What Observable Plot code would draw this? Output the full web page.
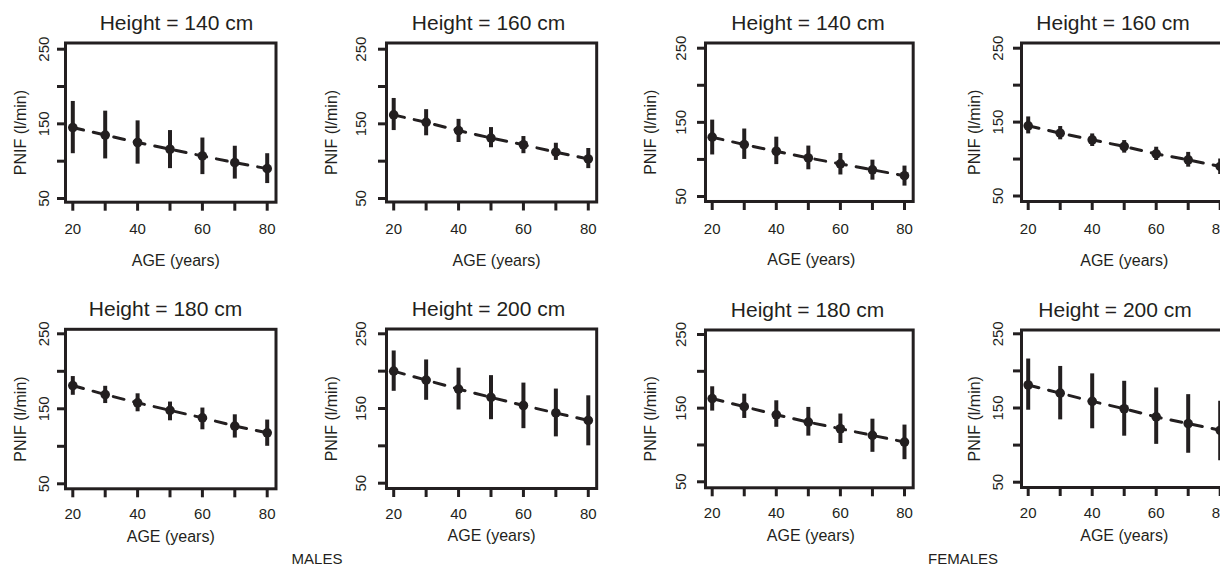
<!DOCTYPE html>
<html>
<head>
<meta charset="utf-8">
<script src="https://cdn.jsdelivr.net/npm/d3@7"></script>
<script src="https://cdn.jsdelivr.net/npm/@observablehq/plot@0.6"></script>
<style>
  html, body { margin: 0; padding: 0; background: #ffffff; overflow: hidden; }
  #chart { position: relative; width: 1220px; height: 567px; overflow: hidden; background: #ffffff;
           font-family: "Liberation Sans", Arial, Helvetica, sans-serif; color: #231f20; }
  .panel { position: absolute; }
  .group-label { position: absolute; font-size: 15px; line-height: 11px; height: 11px; transform: translateX(-50%); white-space: nowrap; }
</style>
</head>
<body>
<div id="chart"></div>
<script>
// ---------------- DATA ----------------
const ages = [20, 30, 40, 50, 60, 70, 80];
const yTicks = [50, 100, 150, 200, 250];
const yTickLabels = [50, 150, 250];
const xTickLabels = [20, 40, 60, 80];
const groupNames = ["MALES", "FEMALES"];
const xLabel = "AGE (years)";
const yLabel = "PNIF (l/min)";

// Males – predicted PNIF (mean) with interval (lo, hi)
const male140Mean = [145, 135, 125, 116, 107, 98, 90];
const male140Lo   = [110, 103, 96, 90, 82, 76, 70];
const male140Hi   = [180, 167, 154, 141, 131, 120, 110];

const male160Mean = [162, 152, 141, 131, 122, 112, 103];
const male160Lo   = [141, 134, 125, 118, 110, 101, 90];
const male160Hi   = [184, 169, 156, 145, 133, 124, 117];

const male180Mean = [181, 169, 158, 148, 138, 127, 118];
const male180Lo   = [168, 157, 146, 134, 122, 111, 100];
const male180Hi   = [193, 180, 170, 159, 151, 142, 135];

const male200Mean = [200, 188, 176, 165, 154, 144, 134];
const male200Lo   = [173, 161, 148, 135, 123, 112, 100];
const male200Hi   = [227, 215, 204, 194, 184, 176, 167];

// Females
const female140Mean = [130, 120, 111, 102, 94, 86, 78];
const female140Lo   = [106, 100, 93, 86, 79, 72, 64];
const female140Hi   = [153, 141, 130, 118, 108, 99, 91];

const female160Mean = [145, 135, 126, 117, 107, 99, 90];
const female160Lo   = [134, 126, 117, 108, 98, 89, 79];
const female160Hi   = [157, 144, 134, 125, 116, 109, 100];

const female180Mean = [163, 152, 141, 131, 122, 113, 104];
const female180Lo   = [146, 136, 124, 112, 102, 90, 80];
const female180Hi   = [179, 169, 160, 151, 142, 135, 127];

const female200Mean = [181, 170, 159, 149, 138, 129, 120];
const female200Lo   = [147, 134, 122, 112, 101, 89, 79];
const female200Hi   = [216, 206, 196, 186, 177, 168, 159];

// Panel content (row, col in the page grid)
const panels = [
  {h: 140, mean: male140Mean, lo: male140Lo, hi: male140Hi, row: 0, col: 0},
  {h: 160, mean: male160Mean, lo: male160Lo, hi: male160Hi, row: 0, col: 1},
  {h: 140, mean: female140Mean, lo: female140Lo, hi: female140Hi, row: 0, col: 2},
  {h: 160, mean: female160Mean, lo: female160Lo, hi: female160Hi, row: 0, col: 3},
  {h: 180, mean: male180Mean, lo: male180Lo, hi: male180Hi, row: 1, col: 0},
  {h: 200, mean: male200Mean, lo: male200Lo, hi: male200Hi, row: 1, col: 1},
  {h: 180, mean: female180Mean, lo: female180Lo, hi: female180Hi, row: 1, col: 2},
  {h: 200, mean: female200Mean, lo: female200Lo, hi: female200Hi, row: 1, col: 3}
];

// ---------------- LAYOUT (pixels, page coordinates) ----------------
const ink = "#231f20";
const colFrameL = [65, 385.5, 705, 1021];
const colFrameR = [275.5, 595.7, 912.7, 1228.5];
const colX20 = [72.3, 392.7, 711.7, 1027.7];
const colX80 = [266.7, 587.3, 904, 1219.7];
const colYTickOff = [17, 20.5, 19, 19];
const colYLabelOff = [40, 49.5, 49.5, 42];
const rowSvgTop = [0, 285];
const rowSvgHeight = [280, 282];
const rowXTickPad = [12.6, 10.6];
const rowXLabelDy = [64, 53];
const panelGeom = [ // [frameTop, frameBottom, y(250), y(50), titleDx, xLabelDx]
  [42.5, 201.7, 48.7, 198, 5.7, 5],
  [42.5, 201.5, 48.7, 198, -3.1, 5],
  [42.5, 201.0, 47.7, 196, -1.3, 2],
  [42.5, 201.0, 47.7, 195.5, -12.2, -1],
  [328.8, 488.3, 333.3, 483.3, -5.2, 0],
  [328.5, 488.0, 333.3, 482.7, -3.1, 0],
  [329.5, 487.3, 334.0, 481.3, -1.8, 1.5],
  [329.5, 487.0, 333.3, 481.7, -10.2, -1]
];
const groupLabelX = [317, 963];
const groupLabelTop = 552.5;

const chart = document.getElementById("chart");
const padL = 64, padR = 24;

panels.forEach((p, i) => {
  const [fT, fB, y250, y50, titleDx, xLabDx] = panelGeom[i];
  const c = p.col, r = p.row;
  const svgLeft = colFrameL[c] - padL;
  const svgTop = rowSvgTop[r];
  const width = (colFrameR[c] - colFrameL[c]) + padL + padR;
  const height = rowSvgHeight[r];
  const data = ages.map((a, k) => ({age: a, mean: p.mean[k], lo: p.lo[k], hi: p.hi[k]}));

  const svg = Plot.plot({
    width, height,
    marginLeft: padL,
    marginRight: padR,
    marginTop: fT - svgTop,
    marginBottom: svgTop + height - fB,
    style: {background: "transparent", color: ink, maxWidth: "none", overflow: "visible",
            fontFamily: '"Liberation Sans", Arial, Helvetica, sans-serif'},
    x: {domain: [20, 80], range: [colX20[c] - svgLeft, colX80[c] - svgLeft], label: null},
    y: {domain: [50, 250], range: [y50 - svgTop, y250 - svgTop], label: null},
    marks: [
      Plot.frame({stroke: ink, strokeWidth: 3}),
      Plot.axisX({ticks: ages, tickFormat: d => xTickLabels.includes(d) ? String(d) : "",
                  tickSize: 9, tickPadding: rowXTickPad[r], strokeWidth: 3, stroke: ink,
                  fontSize: 15, label: null}),
      Plot.axisY({ticks: yTicks, tickFormat: d => yTickLabels.includes(d) ? String(d) : "",
                  tickSize: 8, tickPadding: colYTickOff[c] - 8, tickRotate: -90,
                  strokeWidth: 3, stroke: ink, fontSize: 15, label: null}),
      Plot.ruleX(data, {x: "age", y1: "lo", y2: "hi", stroke: ink, strokeWidth: 4}),
      Plot.line(data, {x: "age", y: "mean", stroke: ink, strokeWidth: 3,
                       strokeDasharray: "11,10", strokeLinecap: "round"}),
      Plot.dot(data, {x: "age", y: "mean", r: 4.8, fill: ink, stroke: null}),
      Plot.text([`Height = ${p.h} cm`], {frameAnchor: "top", dy: -13, dx: titleDx,
                 lineAnchor: "bottom", fontSize: 21, fill: ink}),
      Plot.text([xLabel], {frameAnchor: "bottom", dy: rowXLabelDy[r], dx: xLabDx,
                 lineAnchor: "bottom", fontSize: 16, fill: ink}),
      Plot.text([yLabel], {frameAnchor: "left", dx: -colYLabelOff[c], dy: 10, rotate: -90,
                 textAnchor: "middle", lineAnchor: "bottom", fontSize: 16, fill: ink})
    ]
  });
  svg.classList.add("panel");
  svg.style.left = svgLeft + "px";
  svg.style.top = svgTop + "px";
  chart.appendChild(svg);
});

groupNames.forEach((g, i) => {
  const d = document.createElement("div");
  d.className = "group-label";
  d.textContent = g;
  d.style.left = groupLabelX[i] + "px";
  d.style.top = groupLabelTop + "px";
  chart.appendChild(d);
});
</script>
</body>
</html>
